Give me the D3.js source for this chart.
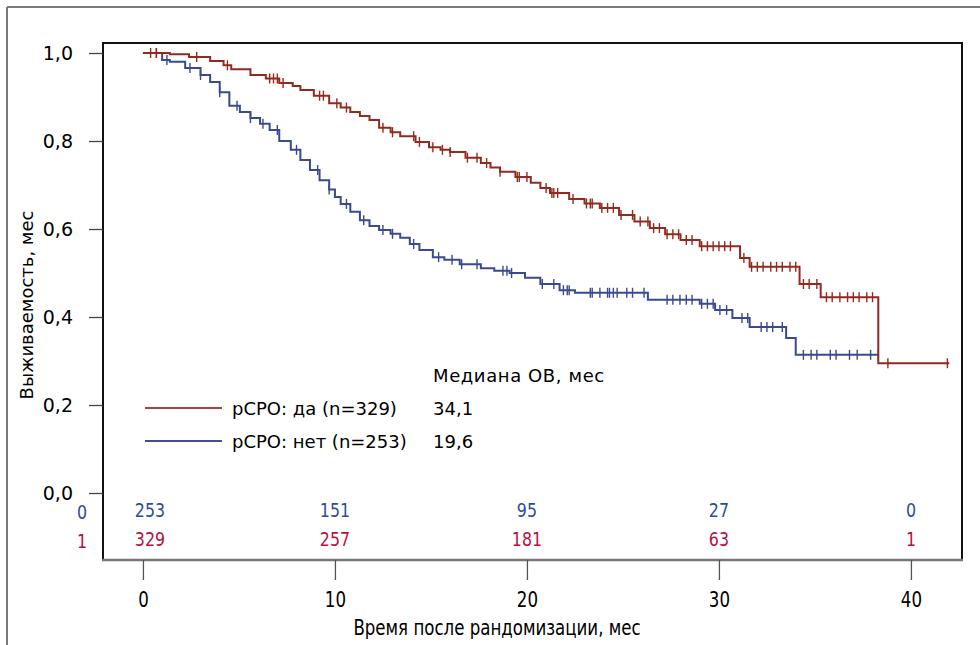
<!DOCTYPE html>
<html>
<head>
<meta charset="utf-8">
<script src="https://cdn.jsdelivr.net/npm/d3@7"></script>
<style>
  body { margin: 0; background: #fff; }
  svg { display: block; font-family: "DejaVu Sans", sans-serif; }
</style>
</head>
<body>
<svg id="chart" width="980" height="645"></svg>
<script>
// KM curve, рСРО: да (n=329) - time of drop (months) and survival after it
var redTimes = [1.4, 2.4, 3.5, 4.2, 4.6, 5.6, 6.4, 7.1, 7.8, 8.2, 8.9, 9.7, 10.3, 10.8, 11.3, 11.8, 12.3, 12.9, 13.4, 14.2, 14.9, 15.5, 16.0, 16.8, 17.6, 18.1, 18.6, 19.4, 20.2, 20.7, 21.2, 22.2, 23.0, 23.8, 24.8, 25.6, 26.4, 27.2, 28.0, 29.0, 31.1, 31.6, 34.2, 35.3, 38.3];
var redSurv  = [0.997, 0.991, 0.982, 0.972, 0.963, 0.95, 0.942, 0.932, 0.925, 0.916, 0.903, 0.886, 0.876, 0.866, 0.857, 0.848, 0.83, 0.82, 0.811, 0.798, 0.786, 0.78, 0.775, 0.762, 0.75, 0.74, 0.73, 0.718, 0.705, 0.693, 0.682, 0.668, 0.658, 0.648, 0.632, 0.617, 0.602, 0.588, 0.575, 0.561, 0.534, 0.514, 0.475, 0.445, 0.295];
var redEnd = 42.0;
var redCensor = [0.4, 0.7, 2.8, 4.4, 6.6, 6.8, 7.0, 7.3, 9.2, 9.4, 10.1, 10.6, 12.5, 13.0, 14.1, 14.4, 15.1, 15.6, 16.0, 16.9, 17.4, 17.9, 18.6, 19.5, 19.6, 20.0, 21.0, 21.3, 21.4, 21.6, 22.4, 23.1, 23.3, 23.4, 23.9, 24.2, 24.5, 24.9, 25.5, 25.9, 26.3, 26.6, 26.9, 27.3, 27.6, 27.9, 28.3, 28.6, 29.1, 29.4, 29.7, 30.0, 30.3, 30.6, 31.3, 31.7, 32.0, 32.3, 32.7, 33.0, 33.3, 33.7, 34.0, 34.4, 34.7, 35.1, 35.6, 35.9, 36.3, 36.7, 37.0, 37.3, 37.7, 38.0, 38.8, 41.9];

// KM curve, рСРО: нет (n=253)
var blueTimes = [1.0, 1.4, 2.2, 3.0, 3.5, 4.0, 4.5, 5.05, 5.6, 6.1, 6.6, 7.1, 7.7, 8.2, 8.7, 9.2, 9.7, 10.0, 10.3, 10.8, 11.3, 11.8, 12.3, 12.9, 13.4, 13.9, 14.4, 15.1, 15.7, 16.5, 17.6, 18.3, 19.1, 19.9, 20.7, 21.7, 22.5, 26.3, 29.0, 29.8, 30.7, 31.6, 33.5, 34.0];
var blueSurv  = [0.984, 0.98, 0.966, 0.95, 0.934, 0.911, 0.88, 0.866, 0.852, 0.839, 0.825, 0.8, 0.78, 0.757, 0.734, 0.711, 0.69, 0.673, 0.657, 0.639, 0.62, 0.607, 0.598, 0.589, 0.58, 0.566, 0.552, 0.536, 0.53, 0.52, 0.511, 0.505, 0.5, 0.489, 0.475, 0.461, 0.455, 0.439, 0.43, 0.416, 0.398, 0.377, 0.352, 0.314];
var blueEnd = 38.3;
var blueCensor = [0.7, 1.25, 2.45, 3.0, 4.0, 4.9, 5.6, 6.25, 7.0, 8.0, 9.1, 9.7, 10.6, 11.5, 12.5, 13.0, 14.1, 15.4, 16.1, 16.6, 17.4, 18.75, 18.96, 19.2, 20.8, 21.4, 21.9, 22.1, 22.2, 23.3, 23.4, 23.8, 24.2, 24.3, 24.5, 24.7, 25.2, 25.5, 26.1, 27.3, 27.6, 27.97, 28.3, 28.6, 29.1, 29.4, 29.7, 30.05, 30.4, 31.2, 31.5, 32.2, 32.5, 32.8, 33.3, 34.4, 34.8, 35.1, 35.8, 36.1, 36.8, 37.2, 37.9, 38.3];

// patients at risk
var riskTimes = [0, 10, 20, 30, 40];
var riskBlue = [253, 151, 95, 27, 0];
var riskRed = [329, 257, 181, 63, 1];

var xTicks = [0, 10, 20, 30, 40];
var yTicks = [0, 0.2, 0.4, 0.6, 0.8, 1.0];

var legendLabels = ["рСРО: да (n=329)", "рСРО: нет (n=253)"];
var medians = ["34,1", "19,6"];

var svg = d3.select("#chart");
var x = d3.scaleLinear().domain([-2.08, 42.66]).range([103, 962]);
var y = d3.scaleLinear().domain([0, 1]).range([493, 53]);
var boxTop = 43, boxBottom = 560;

var redCol = "#922a20", blueCol = "#3b4a8e";
var narrow = "'DejaVu Sans Condensed', 'Liberation Sans Narrow', sans-serif";

// outer frame
svg.append("line").attr("x1", 7).attr("x2", 980).attr("y1", 7).attr("y2", 7)
    .attr("stroke", "#7a7a7a").attr("stroke-width", 2);
svg.append("line").attr("x1", 7).attr("x2", 7).attr("y1", 7).attr("y2", 645)
    .attr("stroke", "#7a7a7a").attr("stroke-width", 2);

// plot box
svg.append("path")
    .attr("d", "M" + x.range()[0] + "," + boxBottom + "V" + boxTop + "H" + x.range()[1] + "V" + boxBottom)
    .attr("fill", "none").attr("stroke", "#111").attr("stroke-width", 2);
svg.append("line").attr("x1", x.range()[0] - 1).attr("x2", x.range()[1] + 1)
    .attr("y1", boxBottom).attr("y2", boxBottom)
    .attr("stroke", "#777").attr("stroke-width", 2.5);

// y axis
var yAxis = d3.axisLeft(y).tickValues(yTicks).tickSize(14).tickPadding(16)
    .tickFormat(function(d) { return d3.format(".1f")(d).replace(".", ","); });
var yg = svg.append("g").attr("transform", "translate(" + x.range()[0] + ",0)").call(yAxis);
yg.select(".domain").remove();
yg.selectAll("line").attr("stroke", "#444").attr("stroke-width", 1.3);
yg.selectAll("text").attr("font-size", 19).attr("fill", "#000").attr("font-family", "DejaVu Sans");

// x axis (ticks below the box)
var xAxis = d3.axisBottom(x).tickValues(xTicks).tickSize(20).tickPadding(12).tickFormat(d3.format("d"));
var xg = svg.append("g").attr("transform", "translate(0," + boxBottom + ")").call(xAxis);
xg.select(".domain").remove();
xg.selectAll("line").attr("stroke", "#555").attr("stroke-width", 1.3);
xg.selectAll("text").attr("font-size", 21).attr("fill", "#000").attr("font-family", narrow)
    .attr("transform", "scale(0.88,1)");

// axis titles
svg.append("text").attr("transform", "translate(33,305) rotate(-90)")
    .attr("text-anchor", "middle").attr("font-size", 18).attr("fill", "#000")
    .text("Выживаемость, мес");
svg.append("text").attr("transform", "translate(497,635) scale(0.88,1)")
    .attr("text-anchor", "middle").attr("font-size", 21).attr("fill", "#000")
    .attr("font-family", narrow)
    .text("Время после рандомизации, мес");

// KM curves
function stepPoints(times, surv, end) {
    var pts = [[0, 1]];
    times.forEach(function(t, i) { pts.push([t, surv[i]]); });
    pts.push([end, surv[surv.length - 1]]);
    return pts;
}
function survAt(times, surv, t) {
    var s = 1;
    for (var i = 0; i < times.length; i++) {
        if (times[i] <= t) s = surv[i];
    }
    return s;
}
var line = d3.line().x(function(d) { return x(d[0]); }).y(function(d) { return y(d[1]); })
    .curve(d3.curveStepAfter);

var series = [
    { times: blueTimes, surv: blueSurv, end: blueEnd, censor: blueCensor, color: blueCol },
    { times: redTimes, surv: redSurv, end: redEnd, censor: redCensor, color: redCol }
];
series.forEach(function(s) {
    svg.append("path").datum(stepPoints(s.times, s.surv, s.end))
        .attr("d", line).attr("fill", "none").attr("stroke", s.color).attr("stroke-width", 2);
    svg.append("g").selectAll("line").data(s.censor).enter().append("line")
        .attr("x1", function(d) { return x(d); }).attr("x2", function(d) { return x(d); })
        .attr("y1", function(d) { return y(survAt(s.times, s.surv, d)) - 5; })
        .attr("y2", function(d) { return y(survAt(s.times, s.surv, d)) + 5; })
        .attr("stroke", s.color).attr("stroke-width", 1.4);
});

// legend + medians
var legCols = ["#a4463e", "#41508c"];
var legY = [408, 441];
legendLabels.forEach(function(lab, i) {
    svg.append("line").attr("x1", 145).attr("x2", 222).attr("y1", legY[i]).attr("y2", legY[i])
        .attr("stroke", legCols[i]).attr("stroke-width", 2.2);
    svg.append("text").attr("x", 232).attr("y", legY[i] + 7).attr("font-size", 18).attr("fill", "#000")
        .text(lab);
    svg.append("text").attr("x", 433).attr("y", legY[i] + 7).attr("font-size", 18).attr("fill", "#000")
        .text(medians[i]);
});
svg.append("text").attr("x", 433).attr("y", 382).attr("font-size", 18).attr("fill", "#000")
    .attr("letter-spacing", 0.6)
    .text("Медиана ОВ, мес");

// at-risk rows
var riskRows = [
    { label: "0", vals: riskBlue, color: "#2d4c9c", yy: 517 },
    { label: "1", vals: riskRed, color: "#b3123e", yy: 546 }
];
riskRows.forEach(function(r) {
    svg.append("text").attr("transform", "translate(82," + (r.yy + 2) + ") scale(0.88,1)")
        .attr("text-anchor", "middle").attr("font-size", 20).attr("fill", r.color)
        .attr("font-family", narrow).text(r.label);
    svg.append("g").selectAll("text").data(riskTimes).enter().append("text")
        .attr("transform", function(d, i) { return "translate(" + (x(d) + (i === 0 ? 7 : 0)) + "," + r.yy + ") scale(0.88,1)"; })
        .attr("text-anchor", "middle").attr("font-size", 20).attr("fill", r.color)
        .attr("font-family", narrow)
        .text(function(d, i) { return r.vals[i]; });
});
</script>
</body>
</html>
